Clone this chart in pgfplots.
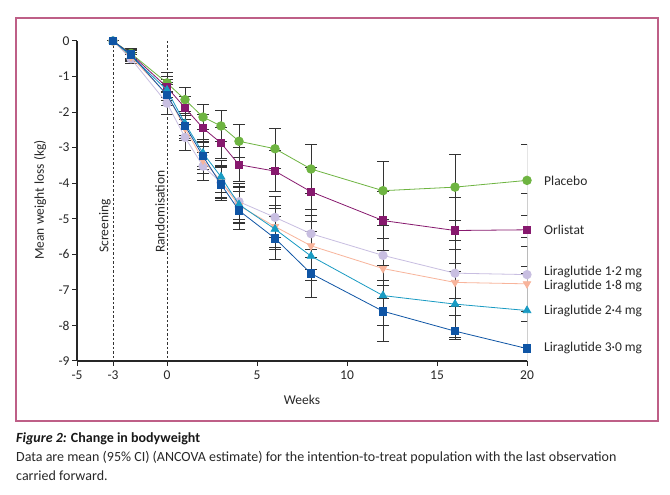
\documentclass[border=0pt]{standalone}
\usepackage{pgfplots}
\pgfplotsset{compat=1.18}
\usepackage{pgfplotstable}
\usepackage{fontspec}
\setmainfont{Carlito}
\definecolor{cplac}{RGB}{110,180,65}
\definecolor{corl}{RGB}{135,25,110}
\definecolor{cl12}{RGB}{200,190,225}
\definecolor{cl18}{RGB}{248,180,155}
\definecolor{cl24}{RGB}{25,155,195}
\definecolor{cl30}{RGB}{15,85,165}
\definecolor{cframe}{RGB}{190,95,135}
\definecolor{ctext}{RGB}{40,40,40}
\newcommand{\lblfont}{\fontsize{13.5bp}{15bp}\selectfont}
\newcommand{\capfont}{\fontsize{14bp}{16bp}\selectfont}

\pgfplotstableread{
x y ep em
-3 0 0 0
-2 -0.35 0.15 0.15
0 -1.18 0.28 0.28
1 -1.65 0.33 0.33
2 -2.14 0.36 0.36
3 -2.39 0.43 0.43
4 -2.82 0.47 0.47
6 -3.03 0.57 0.57
8 -3.60 0.68 0.68
12 -4.21 0.82 0.82
16 -4.11 0.93 0.93
20 -3.92 1.00 1.00
}\placebo
\pgfplotstableread{
x y ep em
-3 0 0 0
-2 -0.37 0.15 0.15
0 -1.30 0.30 0.30
1 -1.88 0.33 0.33
2 -2.45 0.37 0.37
3 -2.87 0.44 0.44
4 -3.48 0.48 0.48
6 -3.66 0.58 0.58
8 -4.24 0.68 0.68
12 -5.05 0.83 0.83
16 -5.33 0.93 0.93
20 -5.31 1.03 1.03
}\orlistat
\pgfplotstableread{
x y ep em
-3 0 0 0
-2 -0.50 0.12 0.12
0 -1.75 0.33 0.33
1 -2.71 0.36 0.36
2 -3.52 0.39 0.39
3 -3.98 0.45 0.45
4 -4.52 0.50 0.50
6 -4.96 0.58 0.58
8 -5.42 0.68 0.68
12 -6.03 0.84 0.84
16 -6.53 0.93 0.93
20 -6.57 1.03 1.03
}\liraA
\pgfplotstableread{
x y ep em
-3 0 0 0
-2 -0.45 0.14 0.14
0 -1.50 0.32 0.32
1 -2.45 0.35 0.35
2 -3.35 0.38 0.38
3 -3.95 0.45 0.45
4 -4.63 0.50 0.50
6 -5.22 0.58 0.58
8 -5.76 0.68 0.68
12 -6.40 0.84 0.84
16 -6.79 0.93 0.93
20 -6.83 1.06 1.06
}\liraB
\pgfplotstableread{
x y ep em
-3 0 0 0
-2 -0.42 0.14 0.14
0 -1.38 0.30 0.30
1 -2.32 0.35 0.35
2 -3.15 0.38 0.38
3 -3.82 0.45 0.45
4 -4.60 0.50 0.50
6 -5.29 0.58 0.58
8 -6.05 0.68 0.68
12 -7.16 0.85 0.85
16 -7.40 0.93 0.93
20 -7.58 1.05 1.05
}\liraC
\pgfplotstableread{
x y ep em
-3 0 0 0
-2 -0.38 0.15 0.15
0 -1.52 0.30 0.30
1 -2.38 0.35 0.35
2 -3.24 0.38 0.38
3 -4.03 0.46 0.46
4 -4.77 0.53 0.53
6 -5.55 0.60 0.60
8 -6.54 0.68 0.68
12 -7.60 0.86 0.86
16 -8.16 0.93 0.24
20 -8.65 1.05 1.05
}\liraD

\begin{document}
\begin{tikzpicture}
\useasboundingbox (0,0) rectangle (670bp,495bp);
\fill[white] (0,0) rectangle (670bp,495bp);
\draw[cframe, line width=1.3bp] (16bp,74bp) rectangle (658bp,477bp);
\begin{axis}[
  at={(77bp,134bp)}, anchor=south west,
  scale only axis, width=450bp, height=320bp,
  xmin=-5, xmax=20, ymin=-9, ymax=0,
  axis lines=left,
  axis line style={-, line width=1.1bp, draw=black!85},
  tick style={line width=1bp, draw=black!85},
  tick align=outside, major tick length=5bp,
  xtick={-5,-3,0,5,10,15,20},
  xticklabels={-5,-3,0,5,10,15,20},
  ytick={-9,-8,-7,-6,-5,-4,-3,-2,-1,0},
  yticklabels={-9,-8,-7,-6,-5,-4,-3,-2,-1,0},
  ticklabel style={font=\lblfont, text=ctext},
  yticklabel style={xshift=1bp},
  xticklabel style={yshift=-1bp},
  clip mode=individual,
  every axis plot/.append style={line width=0.8bp},
]
% reference lines
\addplot[draw=black!80, line width=0.8bp, dash pattern=on 2.5bp off 2bp, mark=none, forget plot] coordinates {(-3,0) (-3,-9)};
\addplot[draw=black!80, line width=0.8bp, dash pattern=on 2.5bp off 2bp, mark=none, forget plot] coordinates {(0,0) (0,-9)};
% error bars
\pgfplotsset{ebar/.style={draw=none, mark=none, forget plot,
  error bars/.cd, y dir=both, y explicit,
  error bar style={draw=black!80, line width=1bp, solid},
  error mark options={draw=black!80, rotate=90, mark size=6bp, line width=1bp}}}
\addplot[ebar] table[x=x,y=y,y error plus=ep,y error minus=em] {\placebo};
\addplot[ebar] table[x=x,y=y,y error plus=ep,y error minus=em] {\orlistat};
\addplot[ebar] table[x=x,y=y,y error plus=ep,y error minus=em] {\liraA};
\addplot[ebar] table[x=x,y=y,y error plus=ep,y error minus=em] {\liraB};
\addplot[ebar] table[x=x,y=y,y error plus=ep,y error minus=em] {\liraC};
\addplot[ebar] table[x=x,y=y,y error plus=ep,y error minus=em] {\liraD};
% series
\addplot[color=cplac, mark=*, mark size=4.3bp, mark options={fill=cplac, draw=cplac}] table[x=x,y=y] {\placebo};
\addplot[color=corl, mark=square*, mark size=3.7bp, mark options={fill=corl, draw=corl}] table[x=x,y=y] {\orlistat};
\addplot[color=cl12, mark=*, mark size=4.2bp, mark options={fill=cl12, draw=cl12}] table[x=x,y=y] {\liraA};
\addplot[color=cl18, mark=triangle*, mark size=4.2bp, mark options={fill=cl18, draw=cl18, rotate=180}] table[x=x,y=y] {\liraB};
\addplot[color=cl24, mark=triangle*, mark size=4.4bp, mark options={fill=cl24, draw=cl24}] table[x=x,y=y] {\liraC};
\addplot[color=cl30, mark=square*, mark size=3.7bp, mark options={fill=cl30, draw=cl30}] table[x=x,y=y] {\liraD};
% annotations
\node[rotate=90, anchor=south west, inner sep=2bp, text=ctext, font=\lblfont] at (axis cs:-3,-6.02) {Screening};
\node[rotate=90, anchor=south west, inner sep=2bp, text=ctext, font=\lblfont] at (axis cs:0,-6.02) {Randomisation};
\begin{scope}[every node/.style={anchor=west, inner sep=0pt, text=ctext, font=\lblfont}]
\node at ([xshift=17bp]axis cs:20,-3.93) {Placebo};
\node at ([xshift=17bp]axis cs:20,-5.31) {Orlistat};
\node at ([xshift=17bp]axis cs:20,-6.51) {Liraglutide 1·2 mg};
\node at ([xshift=17bp]axis cs:20,-6.88) {Liraglutide 1·8 mg};
\node at ([xshift=17bp]axis cs:20,-7.58) {Liraglutide 2·4 mg};
\node at ([xshift=17bp]axis cs:20,-8.64) {Liraglutide 3·0 mg};
\end{scope}
\end{axis}
\node[text=ctext, font=\lblfont] at (302bp,95bp) {Weeks};
\node[rotate=90, text=ctext, font=\lblfont] at (40bp,295bp) {Mean weight loss (kg)};
\node[anchor=base west, inner sep=0pt, text=black!90, font=\capfont] at (16bp,52bp) {\textbf{\textit{Figure 2:} Change in bodyweight}};
\node[anchor=base west, inner sep=0pt, text=ctext, font=\capfont] at (16bp,33.5bp) {Data are mean (95\% CI) (ANCOVA estimate) for the intention-to-treat population with the last observation};
\node[anchor=base west, inner sep=0pt, text=ctext, font=\capfont] at (16bp,15bp) {carried forward.};
\end{tikzpicture}
\end{document}
